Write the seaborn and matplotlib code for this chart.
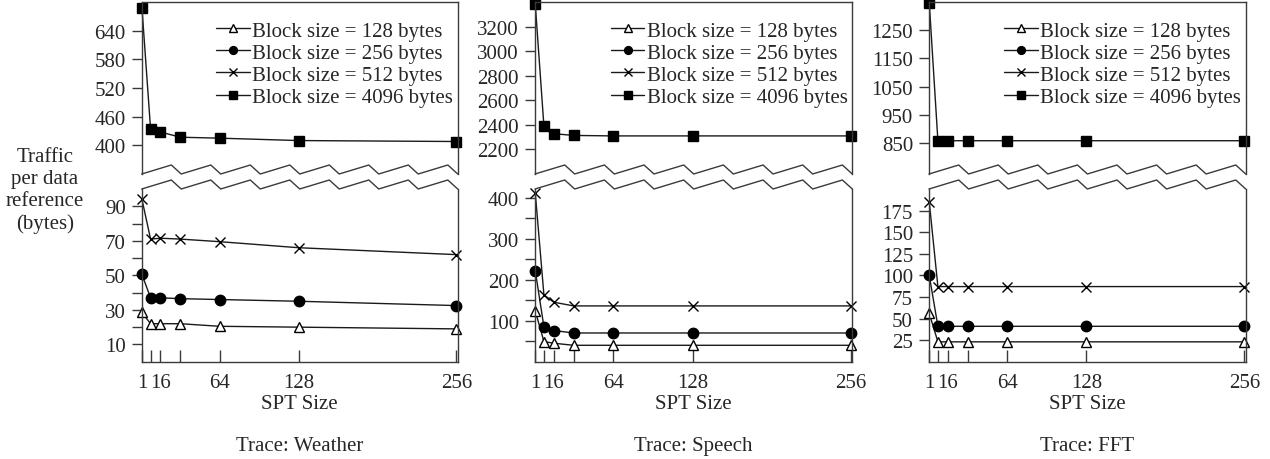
import matplotlib
matplotlib.use("Agg")
import matplotlib.pyplot as plt
from matplotlib.ticker import FixedLocator
from matplotlib.lines import Line2D
import seaborn as sns
import pandas as pd

sns.set_style("white")
plt.rcParams['font.family'] = ['Liberation Serif', 'DejaVu Serif']
plt.rcParams['font.size'] = 15

# ---- data ----
spt_sizes = [1, 8, 16, 32, 64, 128, 256]
block_labels = ["Block size = 128 bytes", "Block size = 256 bytes",
                "Block size = 512 bytes", "Block size = 4096 bytes"]
traces = ["Weather", "Speech", "FFT"]

weather_128 = [28.5, 22, 22, 22, 20.5, 20, 19]
weather_256 = [50.5, 37, 37, 36.5, 36, 35, 32.5]
weather_512 = [94, 71, 71.5, 71, 69.5, 66, 62]
weather_4096 = [688, 434, 428, 417, 415, 410, 408]

speech_128 = [124, 49, 45, 40, 40, 40, 40]
speech_256 = [222, 85, 76, 70, 70, 70, 70]
speech_512 = [412, 163, 145, 136, 136, 136, 136]
speech_4096 = [3385, 2390, 2328, 2314, 2310, 2310, 2310]

fft_128 = [56, 23, 23, 23, 23, 23, 23]
fft_256 = [100, 41, 41, 41, 41, 41, 41]
fft_512 = [185, 87, 87, 87, 87, 87, 87]
fft_4096 = [1348, 858, 858, 858, 858, 858, 858]

x_ticks = [1, 8, 16, 32, 64, 128, 256]
x_ticklabels = ["1", "", "16", "", "64", "128", "256"]

top_ylims = [(340, 700), (2000, 3400), (740, 1350)]
top_yticks = [[400, 460, 520, 580, 640],
              [2200, 2400, 2600, 2800, 3000, 3200],
              [850, 950, 1050, 1150, 1250]]
bot_ylims = [(0, 100), (0, 421), (0, 200)]
bot_yticks = [[10, 30, 50, 70, 90], [100, 200, 300, 400],
              [25, 50, 75, 100, 125, 150, 175]]
bot_yminor = [[20, 40, 60, 80], [50, 150, 250, 350], []]

small_series = [
    [weather_128, weather_256, weather_512],
    [speech_128, speech_256, speech_512],
    [fft_128, fft_256, fft_512],
]
big_series = [weather_4096, speech_4096, fft_4096]

# ---- styles ----
W, H = 1270, 460
fig = plt.figure(figsize=(W / 100, H / 100), dpi=100)
spine_c = "#3a3a3a"
line_c = "#1a1a1a"
ms = 7.5
marker_styles = [
    dict(marker="^", markerfacecolor="white", markeredgecolor="black", markeredgewidth=1.0),
    dict(marker="o", markerfacecolor="black", markeredgecolor="black", markeredgewidth=1.0),
    dict(marker="x", markerfacecolor="black", markeredgecolor="black", markeredgewidth=1.0),
    dict(marker="s", markerfacecolor="black", markeredgecolor="black", markeredgewidth=1.0),
]

lefts = [141.7, 535.0, 929.0]
rights = [457.7, 852.3, 1245.7]
top_y0, top_y1 = 3, 175
bot_y0, bot_y1 = 190, 362.7


def fax(l, r, t, b):
    return [l / W, 1 - b / H, (r - l) / W, (b - t) / H]


def sawtooth(ax, base, height):
    xs, ys = [0.0], [base]
    for i in range(8):
        xs += [(i + 0.75) / 8, (i + 1) / 8]
        ys += [base + height, base]
    ax.plot(xs, ys, transform=ax.transAxes, color=spine_c, lw=1.0, clip_on=False)


for k in range(3):
    l, r = lefts[k], rights[k]
    ax_t = fig.add_axes(fax(l, r, top_y0, top_y1))
    ax_b = fig.add_axes(fax(l, r, bot_y0, bot_y1))

    for ax in (ax_t, ax_b):
        for s in ax.spines.values():
            s.set_color(spine_c)
            s.set_linewidth(1.0)
        ax.set_xlim(0.8, 257)
        ax.tick_params(axis="y", direction="out", length=7, width=1.0,
                       color=spine_c, pad=4.5, labelsize=15, left=True)
        ax.tick_params(axis="y", which="minor", direction="out", length=7,
                       width=1.0, color=spine_c, left=True)

    ax_t.spines["bottom"].set_visible(False)
    ax_b.spines["top"].set_visible(False)
    ax_t.set_xticks([])
    ax_b.set_xticks(x_ticks)
    ax_b.set_xticklabels(x_ticklabels)
    ax_b.tick_params(axis="x", direction="in", length=8.5, width=1.0,
                     color=spine_c, pad=8, labelsize=15, bottom=True)

    ax_t.set_ylim(*top_ylims[k])
    ax_t.set_yticks(top_yticks[k])
    ax_b.set_ylim(*bot_ylims[k])
    ax_b.set_yticks(bot_yticks[k])
    ax_b.yaxis.set_minor_locator(FixedLocator(bot_yminor[k]))

    # data
    for j, ys in enumerate(small_series[k]):
        df = pd.DataFrame({"spt": spt_sizes, "traffic": ys})
        sns.lineplot(data=df, x="spt", y="traffic", ax=ax_b, color=line_c,
                     linewidth=1.0, markersize=ms, clip_on=False,
                     **marker_styles[j])
    df = pd.DataFrame({"spt": spt_sizes, "traffic": big_series[k]})
    sns.lineplot(data=df, x="spt", y="traffic", ax=ax_t, color=line_c,
                 linewidth=1.0, markersize=ms, clip_on=False, **marker_styles[3])

    for ax in (ax_t, ax_b):
        ax.set_xlabel("")
        ax.set_ylabel("")

    sawtooth(ax_t, 0.0, 9 / (top_y1 - top_y0))
    sawtooth(ax_b, 1.0, 9 / (bot_y1 - bot_y0))

    handles = [Line2D([], [], color=line_c, lw=1.0, markersize=ms * 0.75,
                      **marker_styles[j]) for j in range(4)]
    ax_t.legend(handles, block_labels, loc="upper right",
                bbox_to_anchor=(1 - 4.5 / (r - l), 1 - 19 / (top_y1 - top_y0)),
                frameon=False, fontsize=15, borderpad=0, borderaxespad=0,
                labelspacing=0.12, handlelength=1.6, handletextpad=0.12)

    cx = (l + r) / 2 / W
    fig.text(cx, 1 - 405 / H, "SPT Size", ha="center", va="center", fontsize=15)
    fig.text(cx, 1 - 446.7 / H, "Trace: " + traces[k], ha="center", va="center",
             fontsize=15)

fig.text(45 / W, 1 - 191 / H, "Traffic\nper data\nreference\n(bytes)",
         ha="center", va="center", fontsize=15, linespacing=1.22)

fig.savefig("out.png", dpi=100)
